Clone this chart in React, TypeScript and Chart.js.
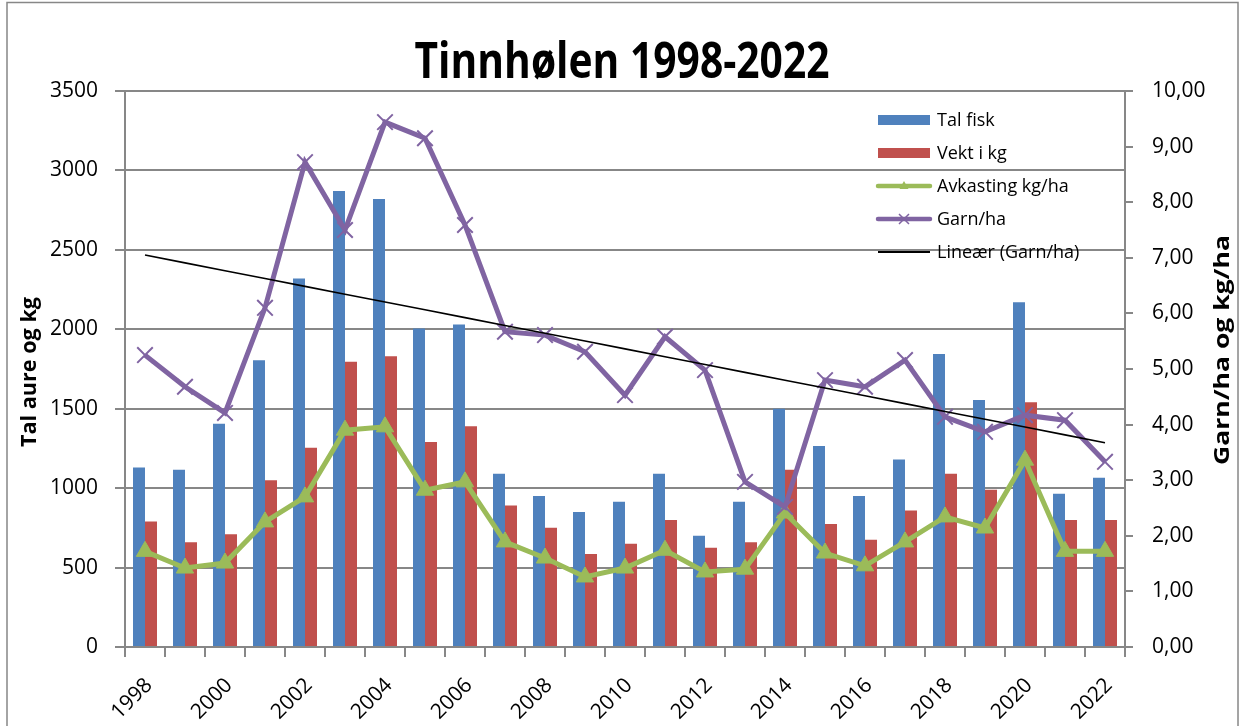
import React, { useEffect, useRef } from 'react';
import { Chart, registerables } from 'chart.js';

Chart.register(...registerables);

// ---------- data ----------
const YEARS = [1998, 1999, 2000, 2001, 2002, 2003, 2004, 2005, 2006, 2007, 2008, 2009, 2010, 2011, 2012, 2013, 2014, 2015, 2016, 2017, 2018, 2019, 2020, 2021, 2022];
const TAL_FISK = [1130, 1115, 1405, 1805, 2320, 2870, 2820, 2005, 2030, 1090, 950, 850, 915, 1090, 700, 915, 1500, 1265, 950, 1180, 1845, 1555, 2170, 965, 1065];
const VEKT_KG = [790, 660, 710, 1050, 1255, 1795, 1830, 1290, 1390, 890, 750, 585, 650, 800, 625, 660, 1115, 775, 675, 860, 1090, 990, 1540, 800, 800];
const AVKASTING = [1.72, 1.42, 1.51, 2.25, 2.7, 3.9, 3.96, 2.82, 2.97, 1.89, 1.6, 1.26, 1.42, 1.74, 1.35, 1.4, 2.41, 1.69, 1.46, 1.89, 2.34, 2.14, 3.36, 1.72, 1.72];
const GARN_HA = [5.25, 4.68, 4.21, 6.1, 8.72, 7.5, 9.44, 9.15, 7.59, 5.67, 5.61, 5.31, 4.53, 5.58, 4.98, 2.97, 2.52, 4.8, 4.68, 5.16, 4.14, 3.87, 4.17, 4.08, 3.33];

const LEFT_MIN = 0;
const LEFT_MAX = 3500;
const LEFT_STEP = 500;
const RIGHT_MIN = 0;
const RIGHT_MAX = 10;
const RIGHT_STEP = 1;

const TITLE = 'Tinnhølen 1998-2022';
const LEFT_AXIS_TITLE = 'Tal aure og kg';
const RIGHT_AXIS_TITLE = 'Garn/ha og kg/ha';
const SERIES_NAMES = ['Tal fisk', 'Vekt i kg', 'Avkasting kg/ha', 'Garn/ha', 'Lineær (Garn/ha)'];

// ---------- styles ----------
const BLUE = '#4F81BD';
const RED = '#C0504D';
const GREEN = '#9BBB59';
const PURPLE = '#8064A2';
const GRID = '#878787';
const FONT = "'Open Sans', 'DejaVu Sans', sans-serif";

function linearTrend(vals: number[]): number[] {
  const n = vals.length;
  const mx = (n - 1) / 2;
  const my = vals.reduce((a, b) => a + b, 0) / n;
  let sxy = 0;
  let sxx = 0;
  vals.forEach((v, i) => {
    sxy += (i - mx) * (v - my);
    sxx += (i - mx) * (i - mx);
  });
  const b = sxy / sxx;
  return vals.map((_, i) => my + b * (i - mx));
}

function fittedText(
  ctx: CanvasRenderingContext2D,
  text: string,
  x: number,
  y: number,
  font: string,
  targetW: number,
  sy: number,
  rot: number
) {
  ctx.save();
  ctx.font = font;
  const w = ctx.measureText(text).width;
  ctx.translate(x, y);
  ctx.rotate(rot);
  ctx.scale(targetW / w, sy);
  ctx.textAlign = 'center';
  ctx.textBaseline = 'alphabetic';
  ctx.fillStyle = '#000';
  ctx.fillText(text, 0, 0);
  ctx.restore();
}

const decorPlugin = {
  id: 'decor',
  afterDraw(chart: any) {
    const ctx: CanvasRenderingContext2D = chart.ctx;
    ctx.save();
    // outer frame
    ctx.strokeStyle = GRID;
    ctx.lineWidth = 1.5;
    ctx.strokeRect(7, 2.5, 1231, 1000);

    // title
    fittedText(ctx, TITLE, 622, 78, `bold 44px ${FONT}`, 415, 36 / (0.714 * 44), 0);
    // axis titles (both read bottom-to-top)
    fittedText(ctx, LEFT_AXIS_TITLE, 36, 372, `bold 22px ${FONT}`, 150, 1, -Math.PI / 2);
    fittedText(ctx, RIGHT_AXIS_TITLE, 1229, 350, `bold 21px ${FONT}`, 230, 1, -Math.PI / 2);

    // legend (inside plot, transparent)
    const x0 = 878;
    const x1 = 930;
    const xm = (x0 + x1) / 2;
    const rows = [120, 153, 186, 219, 252];
    ctx.font = `18px ${FONT}`;
    ctx.textAlign = 'left';
    ctx.textBaseline = 'middle';
    rows.forEach((y, i) => {
      if (i === 0 || i === 1) {
        ctx.fillStyle = i === 0 ? BLUE : RED;
        ctx.fillRect(x0, y - 5, x1 - x0, 10);
      } else {
        const col = i === 2 ? GREEN : i === 3 ? PURPLE : '#000';
        ctx.strokeStyle = col;
        ctx.lineWidth = i === 4 ? 2 : 4.5;
        ctx.lineCap = i === 4 ? 'butt' : 'round';
        ctx.beginPath();
        ctx.moveTo(x0, y);
        ctx.lineTo(x1, y);
        ctx.stroke();
        if (i === 2) {
          ctx.fillStyle = GREEN;
          ctx.beginPath();
          ctx.moveTo(xm, y - 5);
          ctx.lineTo(xm + 4.5, y + 3);
          ctx.lineTo(xm - 4.5, y + 3);
          ctx.closePath();
          ctx.fill();
        } else if (i === 3) {
          ctx.lineWidth = 1.5;
          ctx.lineCap = 'butt';
          ctx.beginPath();
          ctx.moveTo(xm - 5, y - 5);
          ctx.lineTo(xm + 5, y + 5);
          ctx.moveTo(xm + 5, y - 5);
          ctx.lineTo(xm - 5, y + 5);
          ctx.stroke();
        }
      }
      ctx.fillStyle = '#000';
      ctx.fillText(SERIES_NAMES[i], 937, y + 1);
    });
    ctx.restore();
  },
};

export default function App() {
  const ref = useRef<HTMLCanvasElement>(null);

  useEffect(() => {
    const canvas = ref.current;
    if (!canvas) return;
    const trend = linearTrend(GARN_HA);
    const chart = new Chart(canvas, {
      type: 'bar',
      data: {
        labels: YEARS.map(String),
        datasets: [
          {
            type: 'bar',
            label: SERIES_NAMES[0],
            data: TAL_FISK,
            yAxisID: 'y',
            backgroundColor: BLUE,
            categoryPercentage: 0.6,
            barPercentage: 1.0,
            order: 3,
          },
          {
            type: 'bar',
            label: SERIES_NAMES[1],
            data: VEKT_KG,
            yAxisID: 'y',
            backgroundColor: RED,
            categoryPercentage: 0.6,
            barPercentage: 1.0,
            order: 4,
          },
          {
            type: 'line',
            label: SERIES_NAMES[2],
            data: AVKASTING,
            yAxisID: 'y2',
            borderColor: GREEN,
            backgroundColor: GREEN,
            borderWidth: 5,
            pointStyle: 'triangle',
            pointRadius: 10,
            pointBorderWidth: 1,
            pointBorderColor: GREEN,
            pointBackgroundColor: GREEN,
            tension: 0,
            order: 2,
          } as any,
          {
            type: 'line',
            label: SERIES_NAMES[3],
            data: GARN_HA,
            yAxisID: 'y2',
            borderColor: PURPLE,
            backgroundColor: PURPLE,
            borderWidth: 5,
            pointStyle: 'crossRot',
            pointRadius: 11,
            pointBorderWidth: 2,
            pointBorderColor: PURPLE,
            tension: 0,
            order: 1,
          } as any,
          {
            type: 'line',
            label: SERIES_NAMES[4],
            data: trend,
            yAxisID: 'y2',
            borderColor: '#000',
            borderWidth: 1.6,
            pointRadius: 0,
            tension: 0,
            order: 0,
          } as any,
        ],
      },
      options: {
        responsive: false,
        animation: false,
        devicePixelRatio: 1,
        events: [],
        layout: { padding: { top: 91, left: 0, right: 0, bottom: 0 } },
        plugins: {
          legend: { display: false },
          title: { display: false },
          tooltip: { enabled: false },
        },
        scales: {
          x: {
            type: 'category',
            offset: true,
            grid: {
              display: true,
              offset: true,
              drawOnChartArea: false,
              drawTicks: true,
              tickLength: 10,
              color: GRID,
              lineWidth: 2,
            },
            border: { display: true, color: GRID, width: 2 },
            ticks: {
              autoSkip: false,
              minRotation: 45,
              maxRotation: 45,
              padding: 16,
              labelOffset: 4,
              color: '#000',
              font: { family: FONT, size: 21 },
              callback: (_v: any, i: number) => (YEARS[i] % 2 === 0 ? String(YEARS[i]) : ''),
            },
            afterFit: (s: any) => {
              s.height = 726 - 647;
            },
          },
          y: {
            type: 'linear',
            position: 'left',
            min: LEFT_MIN,
            max: LEFT_MAX,
            grid: {
              color: GRID,
              lineWidth: 2,
              drawTicks: true,
              tickLength: 10,
            },
            border: { display: true, color: GRID, width: 2 },
            ticks: {
              stepSize: LEFT_STEP,
              padding: 17,
              color: '#000',
              font: { family: FONT, size: 21 },
              callback: (v: any) => String(v),
            },
            afterFit: (s: any) => {
              s.width = 125;
            },
          },
          y2: {
            type: 'linear',
            position: 'right',
            min: RIGHT_MIN,
            max: RIGHT_MAX,
            grid: {
              drawOnChartArea: false,
              color: GRID,
              lineWidth: 2,
              drawTicks: true,
              tickLength: 8,
            },
            border: { display: true, color: GRID, width: 2 },
            ticks: {
              stepSize: RIGHT_STEP,
              padding: 19,
              color: '#000',
              font: { family: FONT, size: 21 },
              callback: (v: any) => Number(v).toFixed(2).replace('.', ','),
            },
            afterFit: (s: any) => {
              s.width = 1239 - 1125;
            },
          },
        },
      },
      plugins: [decorPlugin],
    });
    return () => chart.destroy();
  }, []);

  return (
    <div style={{ position: 'absolute', left: 0, top: 0, width: 1239, height: 726, background: '#fff' }}>
      <canvas ref={ref} width={1239} height={726} style={{ display: 'block', width: 1239, height: 726 }} />
    </div>
  );
}
